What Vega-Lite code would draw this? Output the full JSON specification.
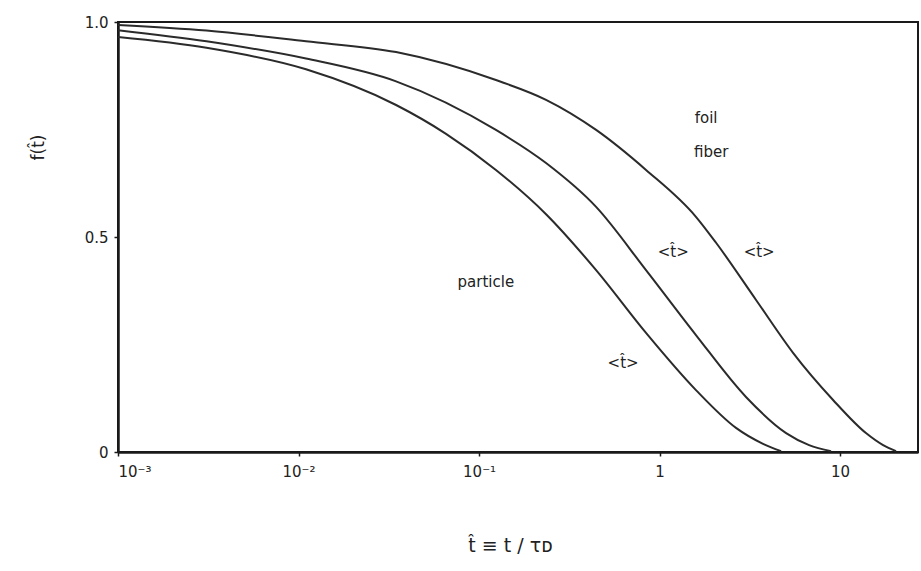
{
  "$schema": "https://vega.github.io/schema/vega-lite/v6.json",
  "width": 800,
  "height": 430,
  "autosize": "none",
  "padding": {"left": 118, "top": 22, "right": 3, "bottom": 119},
  "background": "white",
  "config": {
    "view": {"stroke": "#1a1a1a", "strokeWidth": 2},
    "font": "DejaVu Sans"
  },
  "datasets": {
    "curves": [
      {"series": "particle", "t": 0.001, "f": 0.965},
      {"series": "particle", "t": 0.00309, "f": 0.94},
      {"series": "particle", "t": 0.011, "f": 0.89},
      {"series": "particle", "t": 0.0347, "f": 0.807},
      {"series": "particle", "t": 0.0656, "f": 0.74},
      {"series": "particle", "t": 0.124, "f": 0.656},
      {"series": "particle", "t": 0.235, "f": 0.553},
      {"series": "particle", "t": 0.445, "f": 0.423},
      {"series": "particle", "t": 0.841, "f": 0.277},
      {"series": "particle", "t": 1.59, "f": 0.144},
      {"series": "particle", "t": 2.65, "f": 0.056},
      {"series": "particle", "t": 3.74, "f": 0.019},
      {"series": "particle", "t": 4.71, "f": 0.002},
      {"series": "fiber", "t": 0.001, "f": 0.981},
      {"series": "fiber", "t": 0.00309, "f": 0.955},
      {"series": "fiber", "t": 0.011, "f": 0.915},
      {"series": "fiber", "t": 0.0347, "f": 0.862},
      {"series": "fiber", "t": 0.124, "f": 0.749},
      {"series": "fiber", "t": 0.235, "f": 0.672},
      {"series": "fiber", "t": 0.445, "f": 0.57},
      {"series": "fiber", "t": 0.841, "f": 0.423},
      {"series": "fiber", "t": 1.59, "f": 0.272},
      {"series": "fiber", "t": 3.01, "f": 0.128},
      {"series": "fiber", "t": 5.02, "f": 0.044},
      {"series": "fiber", "t": 6.73, "f": 0.016},
      {"series": "fiber", "t": 8.91, "f": 0.002},
      {"series": "foil", "t": 0.001, "f": 0.993},
      {"series": "foil", "t": 0.00309, "f": 0.98},
      {"series": "foil", "t": 0.011, "f": 0.955},
      {"series": "foil", "t": 0.0347, "f": 0.93},
      {"series": "foil", "t": 0.124, "f": 0.865},
      {"series": "foil", "t": 0.235, "f": 0.819},
      {"series": "foil", "t": 0.445, "f": 0.749},
      {"series": "foil", "t": 0.841, "f": 0.656},
      {"series": "foil", "t": 1.59, "f": 0.547},
      {"series": "foil", "t": 2.06, "f": 0.486},
      {"series": "foil", "t": 3.43, "f": 0.353},
      {"series": "foil", "t": 5.5, "f": 0.23},
      {"series": "foil", "t": 9.14, "f": 0.121},
      {"series": "foil", "t": 13.9, "f": 0.044},
      {"series": "foil", "t": 17.3, "f": 0.016},
      {"series": "foil", "t": 20.4, "f": 0.002}
    ],
    "labels": [
      {"label": "foil", "t": 1.81, "f": 0.777},
      {"label": "fiber", "t": 1.93, "f": 0.698},
      {"label": "particle", "t": 0.109, "f": 0.395},
      {"label": "<t̂>", "t": 1.19, "f": 0.465},
      {"label": "<t̂>", "t": 3.56, "f": 0.465},
      {"label": "<t̂>", "t": 0.628, "f": 0.207}
    ]
  },
  "layer": [
    {
      "data": {"name": "curves"},
      "mark": {"type": "line", "stroke": "#2b2b2b", "strokeWidth": 2, "interpolate": "monotone"},
      "encoding": {
        "x": {
          "field": "t", "type": "quantitative",
          "scale": {"type": "log", "domain": [0.001, 27], "nice": false},
          "axis": {
            "values": [0.001, 0.01, 0.1, 1, 10],
            "labelExpr": "datum.value < 0.0015 ? '10⁻³' : datum.value < 0.015 ? '10⁻²' : datum.value < 0.15 ? '10⁻¹' : datum.value < 1.5 ? '1' : '10'",
            "title": "t̂ ≡ t / τᴅ",
            "titleX": 392, "titleY": 93, "titleBaseline": "middle",
            "titleFontSize": 19, "titleFontWeight": "normal", "titleColor": "#222",
            "labelFontSize": 15, "labelColor": "#222", "labelPadding": 8,
            "grid": false, "domainColor": "#1a1a1a", "domainWidth": 2.5,
            "tickColor": "#1a1a1a", "tickSize": 4, "tickWidth": 1.5
          }
        },
        "y": {
          "field": "f", "type": "quantitative",
          "scale": {"domain": [0, 1], "nice": false},
          "axis": {
            "values": [0, 0.5, 1],
            "labelExpr": "datum.value == 0 ? '0' : format(datum.value, '.1f')",
            "title": "f(t̂)",
            "titleX": -80, "titleY": 125, "titleAngle": -90, "titleAlign": "center", "titleBaseline": "middle",
            "titleFontSize": 17, "titleFontWeight": "normal", "titleColor": "#222",
            "labelFontSize": 15, "labelColor": "#222", "labelPadding": 6,
            "grid": false, "domainColor": "#1a1a1a", "domainWidth": 2.5,
            "tickColor": "#1a1a1a", "tickSize": 4, "tickWidth": 1.5
          }
        },
        "detail": {"field": "series", "type": "nominal"}
      }
    },
    {
      "data": {"name": "labels"},
      "mark": {"type": "text", "fontSize": 15, "fill": "#222", "align": "center", "baseline": "middle"},
      "encoding": {
        "x": {"field": "t", "type": "quantitative"},
        "y": {"field": "f", "type": "quantitative"},
        "text": {"field": "label"}
      }
    }
  ]
}
